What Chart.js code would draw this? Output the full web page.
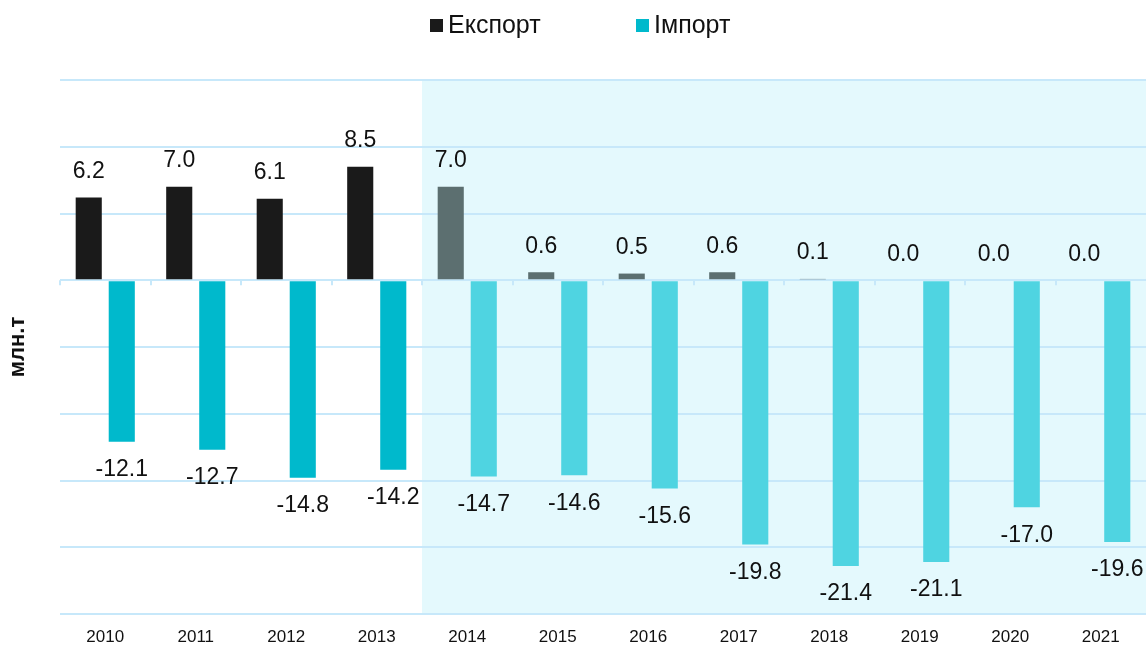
<!DOCTYPE html>
<html>
<head>
<meta charset="utf-8">
<script src="https://cdn.jsdelivr.net/npm/chart.js@4.4.1/dist/chart.umd.min.js"></script>
<style>
  html, body { margin: 0; padding: 0; background: #fff; overflow: hidden; }
  .wrap { position: relative; width: 1146px; height: 646px; }
</style>
</head>
<body>
<div class="wrap"><canvas id="tradeChart"></canvas></div>
<script>
// --- data ---
const years = ['2010', '2011', '2012', '2013', '2014', '2015', '2016', '2017', '2018', '2019', '2020', '2021'];
const exportValues = [6.2, 7.0, 6.1, 8.5, 7.0, 0.6, 0.5, 0.6, 0.1, 0.0, 0.0, 0.0];
const importValues = [-12.1, -12.7, -14.8, -14.2, -14.7, -14.6, -15.6, -19.8, -21.4, -21.1, -17.0, -19.6];
const seriesNames = ['Експорт', 'Імпорт'];
const yAxisTitle = 'млн.т';
const yMin = -25, yMax = 15, yStep = 5;
const shadeFromYear = '2014';

const FONT = '"Liberation Sans", Arial, sans-serif';
const shadeIndex = years.indexOf(shadeFromYear);

const colors = {
    exportDark: '#1a1a1a',
    exportLight: '#5c6f70',
    importDark: '#00b9cc',
    importLight: '#4fd4e1',
    grid: '#c7e8fa',
    shade: '#e4f9fd',
};

// shaded background for the later period + small ticks on zero line
const shadePlugin = {
    id: 'shade',
    beforeDraw(chart) {
        const { ctx, chartArea, scales } = chart;
        const x = scales.x;
        const half = (x.getPixelForValue(1) - x.getPixelForValue(0)) / 2;
        const left = x.getPixelForValue(shadeIndex) - half;
        ctx.save();
        ctx.fillStyle = colors.shade;
        ctx.fillRect(left, chartArea.top, chartArea.right - left, chartArea.bottom - chartArea.top);
        ctx.restore();
    },
    afterDraw(chart) {
        const { ctx, scales } = chart;
        const x = scales.x;
        const y0 = scales.y.getPixelForValue(0);
        const half = (x.getPixelForValue(1) - x.getPixelForValue(0)) / 2;
        ctx.save();
        ctx.strokeStyle = colors.grid;
        ctx.lineWidth = 2;
        for (let i = 0; i < years.length; i++) {
            const px = Math.round(x.getPixelForValue(i) - half);
            ctx.beginPath();
            ctx.moveTo(px, y0);
            ctx.lineTo(px, y0 + 5);
            ctx.stroke();
        }
        ctx.restore();
    },
};

// value labels above / below bars
const valueLabels = {
    id: 'valueLabels',
    afterDatasetsDraw(chart) {
        const { ctx } = chart;
        ctx.save();
        ctx.font = '23px ' + FONT;
        ctx.fillStyle = '#111';
        ctx.textAlign = 'center';
        ctx.textBaseline = 'middle';
        chart.data.datasets.forEach((ds, di) => {
            chart.getDatasetMeta(di).data.forEach((bar, i) => {
                const v = ds.data[i];
                const y = v >= 0 ? bar.y - 26 : bar.y + 28;
                ctx.fillText(v.toFixed(1), bar.x, y);
            });
        });
        ctx.restore();
    },
};

// legend drawn at the top
const topLegend = {
    id: 'topLegend',
    afterDraw(chart) {
        const { ctx } = chart;
        ctx.save();
        ctx.font = '25px ' + FONT;
        ctx.textBaseline = 'middle';
        const starts = [430, 636];
        chart.data.datasets.forEach((ds, di) => {
            const x = starts[di];
            ctx.fillStyle = di === 0 ? colors.exportDark : colors.importDark;
            ctx.fillRect(x, 19, 13, 13);
            ctx.fillStyle = '#111';
            ctx.fillText(ds.label, x + 18, 26);
        });
        ctx.restore();
    },
};

new Chart(document.getElementById('tradeChart').getContext('2d'), {
    type: 'bar',
    data: {
        labels: years,
        datasets: [
            {
                label: seriesNames[0],
                data: exportValues,
                backgroundColor: ctx => ctx.dataIndex >= shadeIndex ? colors.exportLight : colors.exportDark,
                categoryPercentage: 0.73,
                barPercentage: 0.79,
            },
            {
                label: seriesNames[1],
                data: importValues,
                backgroundColor: ctx => ctx.dataIndex >= shadeIndex ? colors.importLight : colors.importDark,
                categoryPercentage: 0.73,
                barPercentage: 0.79,
            },
        ],
    },
    options: {
        responsive: true,
        maintainAspectRatio: false,
        animation: false,
        layout: { padding: { top: 80, right: 0, bottom: 0, left: 0 } },
        plugins: {
            legend: { display: false },
            tooltip: { enabled: false },
        },
        scales: {
            x: {
                grid: { display: false, drawTicks: false },
                border: { display: false },
                ticks: { color: '#111', font: { family: FONT, size: 17 }, padding: 13, maxRotation: 0 },
                afterFit: s => { s.height = 32; },
            },
            y: {
                min: yMin,
                max: yMax,
                ticks: { stepSize: yStep, display: false },
                grid: { color: colors.grid, lineWidth: 2, drawTicks: false },
                border: { display: false },
                title: {
                    display: true,
                    text: yAxisTitle,
                    color: '#111',
                    font: { family: FONT, size: 22, weight: 'bold' },
                    padding: { top: 5, bottom: 0 },
                },
                afterFit: s => { s.width = 60; },
            },
        },
    },
    plugins: [shadePlugin, valueLabels, topLegend],
});
</script>
</body>
</html>
